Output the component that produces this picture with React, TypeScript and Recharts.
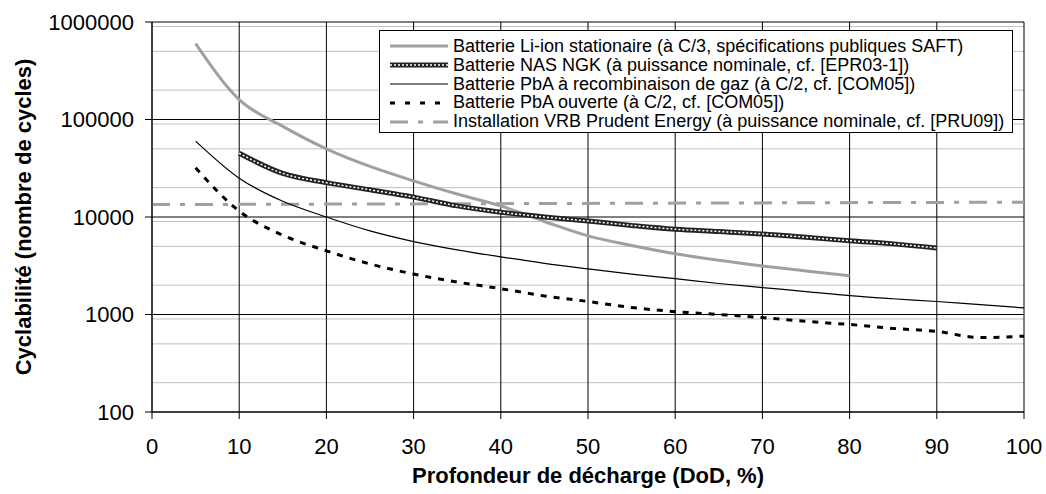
import React from 'react';
import { LineChart, Line, XAxis, YAxis, CartesianGrid, Legend, Label } from 'recharts';

// profondeur de décharge (%)
const dod = [0, 5, 10, 15, 20, 25, 30, 35, 40, 45, 50, 55, 60, 65, 70, 75, 80, 85, 90, 95, 100];

const liIon = [null, 600000, 160000, 85000, 50000, 33000, 23500, 17200, 13000, 9000, 6400, 5100, 4200, 3600, 3150, 2800, 2500, null, null, null, null];
const nasNgk = [null, null, 45000, 28000, 22500, 19000, 16000, 13000, 11200, 10000, 9100, 8200, 7500, 7100, 6700, 6200, 5700, 5300, 4800, null, null];
const pbaGaz = [null, 60000, 25000, 14500, 10000, 7200, 5600, 4600, 3900, 3350, 2940, 2600, 2330, 2080, 1890, 1720, 1560, 1450, 1360, 1260, 1170];
const pbaOuverte = [null, 32000, 11500, 6500, 4500, 3300, 2600, 2150, 1840, 1550, 1360, 1180, 1070, 1000, 930, 850, 790, 720, 670, 580, 600];
const vrb = [13400, null, null, null, null, null, null, null, null, null, null, null, null, null, null, null, null, null, null, null, 14200];

const xTicks = [0, 10, 20, 30, 40, 50, 60, 70, 80, 90, 100];
const yTicks = [100, 1000, 10000, 100000, 1000000];
const minorY = [1000, 10000, 100000, 1000000].flatMap((d) =>
  [2, 3, 4, 5, 6, 7, 8, 9].map((m) => (m * d) / 10)
);

const data = dod.map((x, i) => ({
  x,
  liIon: liIon[i],
  nas: nasNgk[i],
  pbaGaz: pbaGaz[i],
  pbaOuverte: pbaOuverte[i],
  vrb: vrb[i],
}));

const GRAY = '#a0a0a0';
const FONT = '"Liberation Sans", Arial, sans-serif';

const legendItems = [
  { label: 'Batterie Li-ion stationaire (à C/3, spécifications publiques SAFT)', kind: 'li' },
  { label: 'Batterie NAS NGK (à puissance nominale, cf. [EPR03-1])', kind: 'nas' },
  { label: 'Batterie PbA à recombinaison de gaz (à C/2, cf. [COM05])', kind: 'gaz' },
  { label: 'Batterie PbA ouverte (à C/2, cf. [COM05])', kind: 'ouv' },
  { label: 'Installation VRB Prudent Energy (à puissance nominale, cf. [PRU09])', kind: 'vrb' },
];

const Sample = ({ kind }: { kind: string }) => (
  <svg width={58} height={10} style={{ marginLeft: 10, marginRight: 5, flex: 'none' }}>
    {kind === 'li' && <line x1={0} y1={5} x2={58} y2={5} stroke={GRAY} strokeWidth={3} />}
    {kind === 'nas' && (
      <>
        <line x1={0} y1={5} x2={58} y2={5} stroke="#222" strokeWidth={5} />
        <line x1={0} y1={5} x2={58} y2={5} stroke="#fff" strokeWidth={1.5} strokeDasharray="2 2" />
      </>
    )}
    {kind === 'gaz' && <line x1={0} y1={5} x2={58} y2={5} stroke="#000" strokeWidth={1.2} />}
    {kind === 'ouv' && <line x1={0} y1={5} x2={58} y2={5} stroke="#000" strokeWidth={3} strokeDasharray="5 10" />}
    {kind === 'vrb' && <line x1={0} y1={5} x2={58} y2={5} stroke={GRAY} strokeWidth={3} strokeDasharray="18 10 5 10" />}
  </svg>
);

const LegendBox = () => (
  <div
    style={{
      width: 634,
      height: 103,
      boxSizing: 'border-box',
      border: '1px solid #000',
      background: '#fff',
      padding: '6px 0 0 0',
      fontFamily: FONT,
      fontSize: 18,
      color: '#000',
    }}
  >
    {legendItems.map((it) => (
      <div key={it.kind} style={{ display: 'flex', alignItems: 'center', height: 18.8, whiteSpace: 'nowrap' }}>
        <Sample kind={it.kind} />
        <span>{it.label}</span>
      </div>
    ))}
  </div>
);

const YTitle = (props: any) => {
  const vb = props.viewBox || { x: 0, y: 0, height: 0 };
  const cx = 23;
  const cy = vb.y + vb.height / 2;
  return (
    <text
      x={cx}
      y={cy}
      transform={`rotate(-90 ${cx} ${cy})`}
      textAnchor="middle"
      dominantBaseline="central"
      fontFamily={FONT}
      fontSize={22}
      fontWeight="bold"
      fill="#000"
    >
      Cyclabilité (nombre de cycles)
    </text>
  );
};

export default function App() {
  return (
    <div style={{ position: 'absolute', left: 0, top: 0, width: 1046, height: 494, background: '#fff' }}>
      <LineChart
        width={1046}
        height={494}
        data={data}
        margin={{ top: 22, right: 22, bottom: 0, left: 0 }}
        style={{ fontFamily: FONT }}
      >
        <CartesianGrid vertical={false} horizontalValues={minorY} stroke="#c0c0c0" strokeWidth={1} />
        <CartesianGrid stroke="#000" strokeWidth={1} />
        <XAxis
          dataKey="x"
          type="number"
          domain={[0, 100]}
          ticks={xTicks}
          height={82}
          tickSize={7}
          tickMargin={19}
          stroke="#000"
          tick={{ fill: '#000', fontSize: 22, fontFamily: FONT }}
        >
          <Label
            value="Profondeur de décharge (DoD, %)"
            position="insideBottom"
            offset={11}
            style={{ fontSize: 22, fontWeight: 'bold', fill: '#000', fontFamily: FONT }}
          />
        </XAxis>
        <YAxis
          scale="log"
          domain={[100, 1000000]}
          ticks={yTicks}
          allowDataOverflow
          width={152}
          tickSize={7}
          tickMargin={11}
          stroke="#000"
          tick={{ fill: '#000', fontSize: 22, fontFamily: FONT }}
        >
          <Label content={YTitle} />
        </YAxis>
        <Legend
          content={LegendBox}
          layout="horizontal"
          verticalAlign="middle"
          align="center"
          wrapperStyle={{ position: 'absolute', left: 379, top: 30, width: 634, height: 103 }}
        />
        <Line dataKey="vrb" stroke={GRAY} strokeWidth={3} strokeDasharray="18 10 5 10" dot={false} connectNulls isAnimationActive={false} />
        <Line dataKey="liIon" type="monotone" stroke={GRAY} strokeWidth={3} dot={false} isAnimationActive={false} />
        <Line dataKey="nas" type="monotone" stroke="#222" strokeWidth={5} dot={false} isAnimationActive={false} />
        <Line dataKey="nas" type="monotone" stroke="#fff" strokeWidth={1.5} strokeDasharray="2 2" dot={false} isAnimationActive={false} legendType="none" />
        <Line dataKey="pbaGaz" type="monotone" stroke="#000" strokeWidth={1.2} dot={false} isAnimationActive={false} />
        <Line dataKey="pbaOuverte" type="monotone" stroke="#000" strokeWidth={3} strokeDasharray="6 7" dot={false} isAnimationActive={false} />
      </LineChart>
    </div>
  );
}
